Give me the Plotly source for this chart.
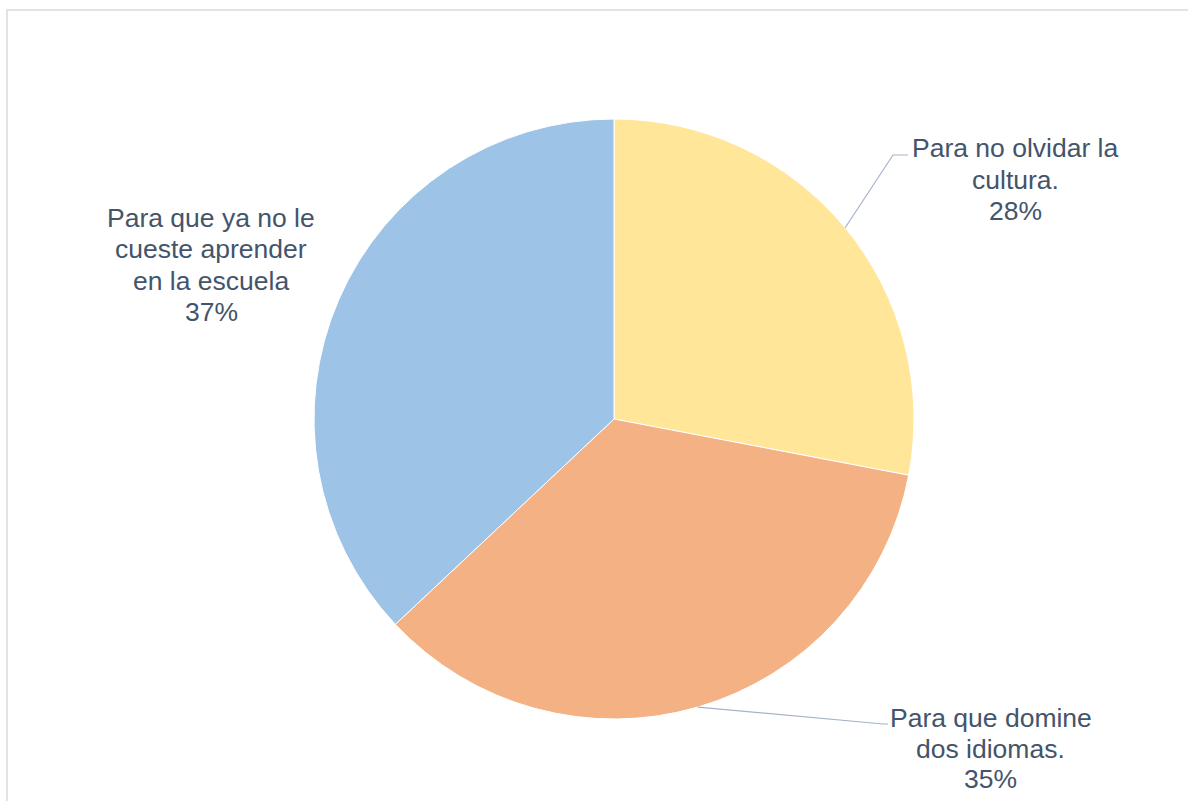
import math
import plotly.graph_objects as go

# Survey answers: why the child should learn the language
categories = [
    "Para no olvidar la cultura.",
    "Para que domine dos idiomas.",
    "Para que ya no le cueste aprender en la escuela",
]
label_lines = [
    ["Para no olvidar la", "cultura."],
    ["Para que domine", "dos idiomas."],
    ["Para que ya no le", "cueste aprender", "en la escuela"],
]
values = [28, 35, 37]
colors = ["#FFE699", "#F4B183", "#9DC3E6"]

W, H = 1188, 801
CX, CY, R = 614, 419, 300  # pie centre and radius, px

fig = go.Figure(
    go.Pie(
        labels=categories,
        values=values,
        sort=False,
        direction="clockwise",
        rotation=0,
        textinfo="none",
        hoverinfo="label+percent",
        marker=dict(colors=colors, line=dict(color="white", width=1)),
        domain=dict(
            x=[(CX - R) / W, (CX + R) / W],
            y=[1 - (CY + R) / H, 1 - (CY - R) / H],
        ),
        showlegend=False,
    )
)

total = sum(values)


def edge_point(idx):
    """Point on the pie rim at the middle angle of slice idx (px)."""
    start = sum(values[:idx]) / total * 360
    mid = start + values[idx] / total * 360 / 2
    a = math.radians(mid)
    return CX + R * math.sin(a), CY - R * math.cos(a)


def px(x, y):
    return x / W, 1 - y / H


text_font = dict(family="Liberation Sans, Arial, sans-serif", size=26.5, color="#44546A")
# label block: centre x, first-line centre y, line pitch (px)
label_pos = [(1015, 148, 31.5), (991, 718, 30.5), (211, 218, 31.3)]
elbows = [[(893, 155), (908, 155)], [(883, 724), (888, 724)], None]

shapes = []
annotations = []
for i in range(len(categories)):
    pct = round(values[i] / total * 100)
    lines = label_lines[i] + [f"{pct}%"]
    lx, ly, pitch = label_pos[i]
    for k, line in enumerate(lines):
        ax, ay = px(lx, ly + k * pitch)
        annotations.append(
            dict(
                x=ax, y=ay, xref="paper", yref="paper",
                text=line, showarrow=False,
                font=text_font, align="center",
                xanchor="center", yanchor="middle",
            )
        )
    if elbows[i]:
        pts = [edge_point(i)] + elbows[i]
        path = "M " + " L ".join(
            f"{px(x, y)[0]:.5f},{px(x, y)[1]:.5f}" for x, y in pts
        )
        shapes.append(
            dict(type="path", path=path, xref="paper", yref="paper",
                 line=dict(color="#A6B4C8", width=1.2))
        )

# chart frame
shapes.append(
    dict(type="rect", xref="paper", yref="paper",
         x0=7 / W, x1=1.01, y0=-0.01, y1=1 - 10 / H,
         line=dict(color="#DEE3EA", width=2), fillcolor="rgba(0,0,0,0)")
)

fig.update_layout(
    width=W, height=H,
    margin=dict(l=0, r=0, t=0, b=0),
    paper_bgcolor="white", plot_bgcolor="white",
    shapes=shapes, annotations=annotations,
)

fig.write_html("out.html")
